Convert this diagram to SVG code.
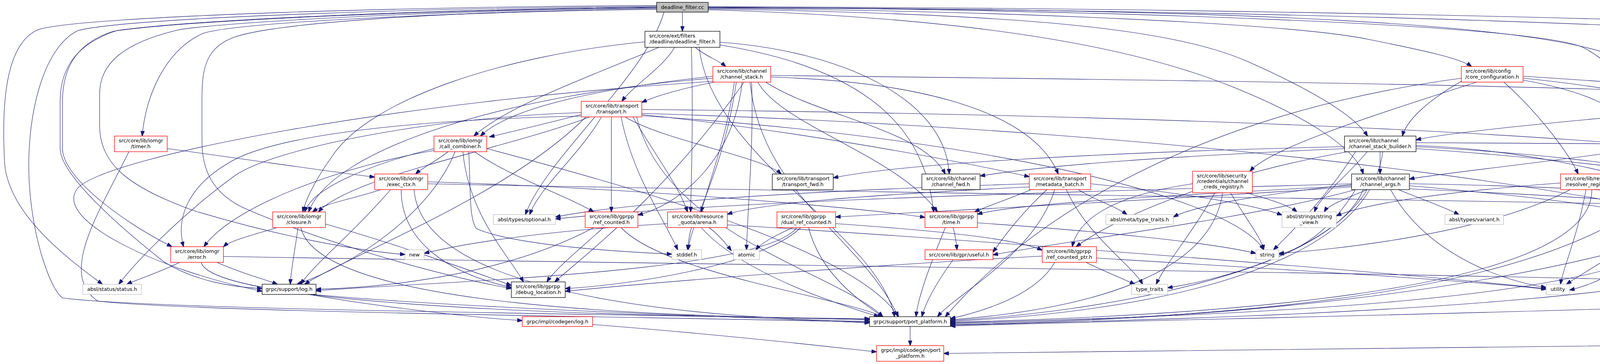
<svg xmlns="http://www.w3.org/2000/svg" width="5274" height="931" viewBox="0 0 5274 931">
<defs>
<marker id="ah" viewBox="0 0 14 10" refX="13" refY="5" markerWidth="14" markerHeight="10" markerUnits="userSpaceOnUse" orient="auto"><path d="M0,0L14,5L0,10z" fill="#191970" stroke="#191970" stroke-width="1"/></marker>
<style>
.edges path{fill:none;stroke:#191970;stroke-width:1.1;marker-end:url(#ah)}
.node rect{fill:#fff;stroke-width:1.3}
.node.r rect{stroke:#ff0000}
.node.k rect{stroke:#000}
.node.g rect{stroke:#bfbfbf}
.node.root rect{fill:#bfbfbf;stroke:#000}
text{font-family:"DejaVu Sans","Liberation Sans",sans-serif;font-size:13px;fill:#000}
.m{text-anchor:middle}
</style>
</defs>
<rect x="0" y="0" width="5274" height="931" fill="#fff"/>
<g id="edges" class="edges">
<path d="M1747,31 C1747,50 1747,60 1747,80"/>
<path d="M1681,24 C1200,30 620,55 520,85 C420,130 372,250 364,348"/>
<path d="M1681,14 C1100,16 220,40 100,75 C10,110 4,280 12,420 C25,560 200,680 262,727"/>
<path d="M1681,16 C1100,20 330,45 200,78 C110,120 65,300 75,470 C85,620 130,740 160,762 C400,795 1800,805 2226,818"/>
<path d="M1681,18 C1100,24 500,50 300,78 C200,110 154,170 154,260 L154,380 C154,440 280,560 420,670 C500,720 600,735 671,738"/>
<path d="M1681,20 C1100,26 520,60 450,78 C320,110 255,160 255,240 L255,320 C255,420 330,480 500,540 C700,600 900,640 1037,651"/>
<path d="M1681,22 C1100,30 700,60 600,95 C530,120 517,170 517,250 L517,360 C517,430 540,490 620,530 C800,610 1100,700 1309,738"/>
<path d="M1681,19 C1100,25 480,52 290,80 C190,112 160,180 160,260 L160,380 C160,450 300,560 440,631"/>
<path d="M1700,31 C1650,200 1400,400 1345,549"/>
<path d="M1813,18 C2800,25 3900,60 4050,120 C4150,170 4190,260 4200,356"/>
<path d="M1813,17 C3000,20 4300,45 4900,80 C5150,95 5273,120 5273,250 L5273,460 C5273,620 5150,690 4921,738"/>
<path d="M1813,25 C2500,45 2900,120 3150,220 C3350,300 3470,380 3490,445"/>
<path d="M1813,23 C2600,35 3000,70 3200,160 C3380,240 3470,300 3501,348"/>
<path d="M1813,21 C2600,28 3300,60 3500,100 C3650,130 3740,150 3767,170"/>
<path d="M1813,19 C3200,22 3950,60 4150,150 C4250,200 4290,230 4300,259"/>
<path d="M1813,20 C3400,25 4500,70 5000,120 C5150,150 5172,250 5172,370 C5172,460 4950,530 4728,552"/>
<path d="M1780,121 C1800,140 1840,155 1858,170"/>
<path d="M1727,121 C1700,170 1620,220 1592,259"/>
<path d="M1687,121 C1500,200 1300,270 1213,348"/>
<path d="M1651,107 C1300,140 950,250 850,400 C800,470 780,520 775,542"/>
<path d="M1843,108 C2150,130 2420,250 2430,445"/>
<path d="M1843,115 C2250,180 2370,350 2390,542"/>
<path d="M1790,121 C1820,400 2250,600 2290,810"/>
<path d="M1770,121 C1775,300 1770,450 1768,542"/>
<path d="M1830,210 C1750,225 1680,245 1643,262"/>
<path d="M1825,195 C1500,230 1300,280 1230,348"/>
<path d="M1825,200 C1300,240 850,380 790,542"/>
<path d="M1880,210 C1860,350 1820,450 1795,542"/>
<path d="M1940,210 C2000,320 2300,400 2400,542"/>
<path d="M1960,210 C2100,300 2360,330 2420,445"/>
<path d="M1920,210 C1950,500 2200,600 2300,810"/>
<path d="M1825,208 C1000,260 280,400 200,480 C130,560 400,690 671,745"/>
<path d="M1973,193 C3500,210 4900,230 5100,300 C5170,340 5150,480 5143,542"/>
<path d="M1905,210 C1700,500 1500,650 1420,721"/>
<path d="M1885,210 C1850,450 1770,560 1762,639"/>
<path d="M1900,210 C1880,400 1750,520 1633,550"/>
<path d="M1924,210 C1930,350 1915,520 1911,639"/>
<path d="M1973,197 C2400,210 2650,300 2709,445"/>
<path d="M1488,293 C1400,315 1300,340 1253,350"/>
<path d="M1510,299 C1300,380 900,450 815,542"/>
<path d="M1488,297 C1100,305 700,340 580,420 C480,480 450,560 470,631"/>
<path d="M1488,288 C1100,300 700,380 600,450 C450,560 340,680 304,727"/>
<path d="M1500,299 C1300,500 900,650 780,727"/>
<path d="M1600,299 C1700,360 1950,400 2000,445"/>
<path d="M1643,293 C2000,330 2400,400 2635,452"/>
<path d="M1620,299 C1680,400 1740,480 1760,542"/>
<path d="M1565,299 C1565,400 1565,480 1565,542"/>
<path d="M1540,299 C1480,400 1380,480 1356,549"/>
<path d="M1590,299 C1620,450 1700,560 1735,639"/>
<path d="M1630,299 C1700,600 2150,700 2260,810"/>
<path d="M1643,280 C3500,300 5000,380 5077,542"/>
<path d="M1643,290 C3000,330 4500,500 4850,727"/>
<path d="M1643,296 C2500,350 3150,500 3235,639"/>
<path d="M1147,388 C1120,410 1080,430 1064,445"/>
<path d="M1111,380 C950,420 800,480 780,542"/>
<path d="M1111,385 C900,420 600,520 522,631"/>
<path d="M1165,388 C1100,550 900,680 760,727"/>
<path d="M1185,388 C1200,550 1300,650 1340,721"/>
<path d="M1200,388 C1205,480 1200,560 1220,585 C1300,620 1500,640 1720,650"/>
<path d="M1215,388 C1300,450 1450,500 1520,542"/>
<path d="M1246,380 C1700,500 2200,650 2300,810"/>
<path d="M975,485 C900,510 830,520 800,542"/>
<path d="M1000,485 C900,600 800,680 770,727"/>
<path d="M1027,485 C1027,620 1150,700 1309,735"/>
<path d="M1095,465 C1600,480 2200,530 2368,556"/>
<path d="M1060,485 C1080,760 1800,815 2226,822"/>
<path d="M1095,470 C2500,500 4800,520 5008,550"/>
<path d="M428,380 C650,410 850,440 959,453"/>
<path d="M330,388 C250,550 150,700 250,770 C500,800 1800,812 2226,824"/>
<path d="M710,582 C650,600 590,615 572,631"/>
<path d="M763,582 C755,640 745,690 743,727"/>
<path d="M833,573 C1000,620 1200,690 1309,730"/>
<path d="M770,582 C820,790 1700,808 2226,817"/>
<path d="M460,671 C400,700 350,715 325,727"/>
<path d="M555,671 C620,700 680,715 710,727"/>
<path d="M515,671 C550,800 1900,812 2226,815"/>
<path d="M572,656 C2000,680 4000,700 4815,735"/>
<path d="M1520,582 C1300,700 1000,735 809,740"/>
<path d="M1545,582 C1480,640 1420,690 1400,721"/>
<path d="M1590,582 C1700,700 2150,760 2260,810"/>
<path d="M1770,582 C1765,600 1762,620 1760,639"/>
<path d="M1815,582 C1840,600 1860,625 1872,641"/>
<path d="M1709,572 C1400,590 1200,620 1086,648"/>
<path d="M1795,582 C1900,700 2150,780 2250,810"/>
<path d="M1862,575 C2600,620 3600,700 3958,738"/>
<path d="M2030,582 C1990,600 1950,620 1935,639"/>
<path d="M2040,582 C1950,700 1100,720 809,744"/>
<path d="M2050,582 C1950,680 1600,730 1447,738"/>
<path d="M2070,582 C2100,700 2200,770 2260,810"/>
<path d="M2139,572 C2400,590 2600,610 2668,640"/>
<path d="M2420,582 C2380,680 2350,760 2345,810"/>
<path d="M2440,582 C2445,600 2448,620 2450,639"/>
<path d="M2502,570 C2800,590 3100,620 3215,648"/>
<path d="M2440,664 C2400,720 2370,770 2360,810"/>
<path d="M2760,485 C2800,510 2860,530 2885,549"/>
<path d="M2792,470 C3000,490 3200,520 3282,550"/>
<path d="M2730,485 C2780,600 2900,680 2925,727"/>
<path d="M2640,485 C2580,510 2520,530 2495,542"/>
<path d="M2635,470 C2000,490 1600,520 1422,555"/>
<path d="M2635,478 C2200,500 1950,520 1862,548"/>
<path d="M2700,485 C2650,650 2450,750 2400,810"/>
<path d="M2680,485 C2600,560 2560,620 2542,645"/>
<path d="M3110,493 C3050,600 2980,680 2960,727"/>
<path d="M3130,493 C3100,700 2800,790 2433,818"/>
<path d="M3150,493 C3190,560 3230,610 3235,639"/>
<path d="M3190,493 C3250,510 3300,525 3320,542"/>
<path d="M3053,470 C2850,500 2760,560 2745,631"/>
<path d="M3490,485 C3400,700 2800,800 2433,820"/>
<path d="M3580,485 C3640,510 3700,530 3735,549"/>
<path d="M3500,485 C3440,510 3400,525 3390,542"/>
<path d="M3460,470 C2800,490 1900,510 1422,560"/>
<path d="M3470,485 C3400,600 3320,640 3274,651"/>
<path d="M3560,485 C3650,650 3850,720 3958,735"/>
<path d="M3608,475 C3900,500 4150,530 4229,557"/>
<path d="M3608,470 C4300,480 4800,540 5008,558"/>
<path d="M3460,475 C3000,500 2600,520 2502,548"/>
<path d="M3470,485 C3200,560 2700,620 2542,652"/>
<path d="M3460,478 C3000,510 2400,540 2139,555"/>
<path d="M3500,485 C3400,650 3100,720 2989,736"/>
<path d="M3460,472 C3200,500 3050,530 3004,555"/>
<path d="M3608,483 C4000,500 4390,520 4405,560 C4410,600 4398,620 4395,639"/>
<path d="M3995,468 C3700,490 3500,520 3421,552"/>
<path d="M4020,485 C3800,600 3400,640 3274,648"/>
<path d="M4060,485 C4040,600 4000,690 3995,727"/>
<path d="M4075,485 C4080,760 3000,810 2433,824"/>
<path d="M4260,574 C4150,640 4050,700 4010,727"/>
<path d="M4330,574 C4345,600 4360,620 4370,639"/>
<path d="M4300,574 C4280,780 3000,810 2433,826"/>
<path d="M4382,562 C4600,590 4800,620 4906,648"/>
<path d="M3442,375 C2800,390 2300,420 2133,455"/>
<path d="M3442,380 C3000,400 2700,420 2509,450"/>
<path d="M3533,388 C3533,410 3533,425 3533,445"/>
<path d="M3470,388 C3400,500 3300,600 3260,639"/>
<path d="M3500,388 C3450,450 3380,500 3365,542"/>
<path d="M3625,380 C4200,420 4800,500 4920,639"/>
<path d="M3625,375 C3900,390 4200,420 4300,452"/>
<path d="M3625,365 C3800,365 4000,368 4164,368"/>
<path d="M3625,372 C4100,390 4400,540 4560,555"/>
<path d="M3450,388 C3100,450 2850,560 2755,631"/>
<path d="M3540,388 C3500,700 2900,800 2433,822"/>
<path d="M4286,286 C4000,310 3700,340 3625,358"/>
<path d="M4320,299 C4290,320 4250,340 4230,356"/>
<path d="M4400,299 C4450,400 4600,480 4630,542"/>
<path d="M4420,299 C4600,400 4900,500 4934,639"/>
<path d="M4370,299 C4400,500 4200,700 4018,742"/>
<path d="M4350,299 C4300,780 3000,815 2433,828"/>
<path d="M4686,294 C4500,330 4300,360 4250,372"/>
<path d="M4700,299 C4300,380 3700,440 3608,458"/>
<path d="M4740,299 C4600,700 3200,820 2433,830"/>
<path d="M4820,299 C4880,450 4930,580 4944,639"/>
<path d="M4900,299 C5050,380 5090,480 5092,542"/>
<path d="M3899,195 C4300,220 4600,250 4686,265"/>
<path d="M3899,200 C4100,220 4250,250 4286,265"/>
<path d="M3899,205 C4100,240 4180,300 4195,356"/>
<path d="M3850,210 C3950,300 4020,400 4040,445"/>
<path d="M3780,210 C3500,300 3250,380 3200,438"/>
<path d="M3741,200 C3000,300 2600,600 2420,810"/>
<path d="M3741,208 C3650,260 3600,310 3590,348"/>
<path d="M4640,582 C4600,790 3000,815 2433,832"/>
<path d="M5080,582 C5000,660 4950,710 4921,733"/>
<path d="M5060,582 C5020,680 4990,760 4985,810"/>
<path d="M5120,582 C5150,800 5000,860 4500,880 C3500,895 2800,900 2416,904"/>
<path d="M4880,753 C4900,775 4930,795 4945,810"/>
<path d="M4830,753 C4600,790 3000,815 2433,834"/>
<path d="M790,753 C1000,790 1250,815 1337,820"/>
<path d="M800,753 C1200,790 1900,810 2226,826"/>
<path d="M1517,830 C1900,860 2150,890 2244,900"/>
<path d="M2330,835 C2330,850 2330,870 2330,884"/>
<path d="M2780,671 C2840,700 2880,715 2905,727"/>
<path d="M2700,671 C2650,760 2500,800 2433,815"/>
<path d="M2807,660 C3300,690 3800,720 3958,740"/>
<path d="M2668,655 C2200,680 1700,720 1447,745"/>
</g>
<g id="n-deadline_filter_cc" class="node root"><rect x="1681" y="6" width="132" height="25"/><text x="1747" y="23" class="m">deadline_filter.cc</text></g>
<g id="n-deadline_filter_h" class="node k"><rect x="1651" y="80" width="192" height="41"/><text x="1662" y="96">src/core/ext/filters</text><text x="1747" y="111" class="m">/deadline/deadline_filter.h</text></g>
<g id="n-channel_stack_h" class="node r"><rect x="1825" y="170" width="148" height="40"/><text x="1836" y="186">src/core/lib/channel</text><text x="1899" y="201" class="m">/channel_stack.h</text></g>
<g id="n-core_configuration_h" class="node r"><rect x="3741" y="170" width="158" height="40"/><text x="3752" y="186">src/core/lib/config</text><text x="3820" y="201" class="m">/core_configuration.h</text></g>
<g id="n-timer_h" class="node r"><rect x="293" y="348" width="135" height="40"/><text x="304" y="364">src/core/lib/iomgr</text><text x="360" y="379" class="m">/timer.h</text></g>
<g id="n-transport_h" class="node r"><rect x="1488" y="259" width="155" height="40"/><text x="1499" y="275">src/core/lib/transport</text><text x="1565" y="290" class="m">/transport.h</text></g>
<g id="n-channel_init_h" class="node k"><rect x="4286" y="259" width="146" height="40"/><text x="4297" y="275">src/core/lib/surface</text><text x="4359" y="290" class="m">/channel_init.h</text></g>
<g id="n-channel_args_preconditioning_h" class="node k"><rect x="4686" y="259" width="234" height="40"/><text x="4697" y="275">src/core/lib/channel</text><text x="4803" y="290" class="m">/channel_args_preconditioning.h</text></g>
<g id="n-call_combiner_h" class="node r"><rect x="1111" y="348" width="135" height="40"/><text x="1122" y="364">src/core/lib/iomgr</text><text x="1178" y="379" class="m">/call_combiner.h</text></g>
<g id="n-channel_stack_builder_h" class="node k"><rect x="3442" y="348" width="183" height="40"/><text x="3453" y="364">src/core/lib/channel</text><text x="3533" y="379" class="m">/channel_stack_builder.h</text></g>
<g id="n-functional" class="node g"><rect x="4164" y="356" width="86" height="25"/><text x="4207" y="373" class="m">functional</text></g>
<g id="n-exec_ctx_h" class="node r"><rect x="959" y="445" width="136" height="40"/><text x="970" y="461">src/core/lib/iomgr</text><text x="1027" y="476" class="m">/exec_ctx.h</text></g>
<g id="n-transport_fwd_h" class="node k"><rect x="1977" y="445" width="156" height="40"/><text x="1988" y="461">src/core/lib/transport</text><text x="2055" y="476" class="m">/transport_fwd.h</text></g>
<g id="n-channel_fwd_h" class="node k"><rect x="2360" y="445" width="149" height="40"/><text x="2371" y="461">src/core/lib/channel</text><text x="2434" y="476" class="m">/channel_fwd.h</text></g>
<g id="n-metadata_batch_h" class="node r"><rect x="2635" y="445" width="157" height="40"/><text x="2646" y="461">src/core/lib/transport</text><text x="2713" y="476" class="m">/metadata_batch.h</text></g>
<g id="n-channel_creds_registry_h" class="node r"><rect x="3053" y="438" width="153" height="55"/><text x="3064" y="454">src/core/lib/security</text><text x="3064" y="468">/credentials/channel</text><text x="3129" y="482" class="m">_creds_registry.h</text></g>
<g id="n-channel_args_h" class="node k"><rect x="3460" y="445" width="148" height="40"/><text x="3471" y="461">src/core/lib/channel</text><text x="3534" y="476" class="m">/channel_args.h</text></g>
<g id="n-resolver_registry_h" class="node r"><rect x="3995" y="445" width="150" height="40"/><text x="4006" y="461">src/core/lib/resolver</text><text x="4070" y="476" class="m">/resolver_registry.h</text></g>
<g id="n-statusor_h" class="node g"><rect x="4272" y="452" width="161" height="26"/><text x="4352" y="469" class="m">absl/status/statusor.h</text></g>
<g id="n-closure_h" class="node r"><rect x="698" y="542" width="135" height="40"/><text x="709" y="558">src/core/lib/iomgr</text><text x="765" y="573" class="m">/closure.h</text></g>
<g id="n-optional_h" class="node g"><rect x="1263" y="549" width="159" height="25"/><text x="1342" y="566" class="m">absl/types/optional.h</text></g>
<g id="n-ref_counted_h" class="node r"><rect x="1498" y="542" width="135" height="40"/><text x="1509" y="558">src/core/lib/gprpp</text><text x="1565" y="573" class="m">/ref_counted.h</text></g>
<g id="n-arena_h" class="node r"><rect x="1709" y="542" width="153" height="40"/><text x="1720" y="558">src/core/lib/resource</text><text x="1785" y="573" class="m">_quota/arena.h</text></g>
<g id="n-dual_ref_counted_h" class="node r"><rect x="1989" y="542" width="150" height="40"/><text x="2000" y="558">src/core/lib/gprpp</text><text x="2064" y="573" class="m">/dual_ref_counted.h</text></g>
<g id="n-time_h" class="node r"><rect x="2368" y="542" width="134" height="40"/><text x="2379" y="558">src/core/lib/gprpp</text><text x="2435" y="573" class="m">/time.h</text></g>
<g id="n-absl_type_traits_h" class="node g"><rect x="2831" y="549" width="173" height="25"/><text x="2917" y="566" class="m">absl/meta/type_traits.h</text></g>
<g id="n-string_view_h" class="node g"><rect x="3282" y="542" width="139" height="40"/><text x="3293" y="558">absl/strings/string</text><text x="3351" y="573" class="m">_view.h</text></g>
<g id="n-variant_h" class="node g"><rect x="3699" y="549" width="150" height="25"/><text x="3774" y="566" class="m">absl/types/variant.h</text></g>
<g id="n-avl_h" class="node r"><rect x="4229" y="549" width="153" height="25"/><text x="4305" y="566" class="m">src/core/lib/avl/avl.h</text></g>
<g id="n-channel_stack_type_h" class="node k"><rect x="4560" y="542" width="168" height="40"/><text x="4571" y="558">src/core/lib/surface</text><text x="4644" y="573" class="m">/channel_stack_type.h</text></g>
<g id="n-grpc_types_h" class="node r"><rect x="5008" y="542" width="176" height="40"/><text x="5019" y="558">grpc/impl/codegen/grpc</text><text x="5096" y="573" class="m">_types.h</text></g>
<g id="n-error_h" class="node r"><rect x="437" y="631" width="135" height="40"/><text x="448" y="647">src/core/lib/iomgr</text><text x="504" y="662" class="m">/error.h</text></g>
<g id="n-new" class="node g"><rect x="1037" y="639" width="49" height="25"/><text x="1061" y="656" class="m">new</text></g>
<g id="n-stddef_h" class="node g"><rect x="1720" y="639" width="76" height="25"/><text x="1758" y="656" class="m">stddef.h</text></g>
<g id="n-atomic" class="node g"><rect x="1878" y="639" width="66" height="25"/><text x="1911" y="656" class="m">atomic</text></g>
<g id="n-useful_h" class="node r"><rect x="2368" y="639" width="174" height="25"/><text x="2455" y="656" class="m">src/core/lib/gpr/useful.h</text></g>
<g id="n-ref_counted_ptr_h" class="node r"><rect x="2668" y="631" width="139" height="40"/><text x="2679" y="647">src/core/lib/gprpp</text><text x="2737" y="662" class="m">/ref_counted_ptr.h</text></g>
<g id="n-string" class="node g"><rect x="3215" y="639" width="59" height="25"/><text x="3244" y="656" class="m">string</text></g>
<g id="n-algorithm" class="node g"><rect x="4343" y="639" width="86" height="25"/><text x="4386" y="656" class="m">algorithm</text></g>
<g id="n-vector" class="node g"><rect x="4906" y="639" width="63" height="25"/><text x="4937" y="656" class="m">vector</text></g>
<g id="n-absl_status_h" class="node g"><rect x="212" y="727" width="150" height="26"/><text x="287" y="744" class="m">absl/status/status.h</text></g>
<g id="n-log_h" class="node k"><rect x="671" y="727" width="138" height="26"/><text x="740" y="744" class="m">grpc/support/log.h</text></g>
<g id="n-debug_location_h" class="node k"><rect x="1309" y="721" width="138" height="40"/><text x="1320" y="737">src/core/lib/gprpp</text><text x="1378" y="752" class="m">/debug_location.h</text></g>
<g id="n-type_traits" class="node g"><rect x="2897" y="727" width="92" height="26"/><text x="2943" y="744" class="m">type_traits</text></g>
<g id="n-utility" class="node g"><rect x="3958" y="727" width="60" height="26"/><text x="3988" y="744" class="m">utility</text></g>
<g id="n-grpc_status_h" class="node k"><rect x="4815" y="727" width="106" height="26"/><text x="4868" y="744" class="m">grpc/status.h</text></g>
<g id="n-codegen_log_h" class="node r"><rect x="1337" y="810" width="180" height="25"/><text x="1427" y="827" class="m">grpc/impl/codegen/log.h</text></g>
<g id="n-port_platform_h" class="node k"><rect x="2226" y="810" width="207" height="25"/><text x="2330" y="827" class="m">grpc/support/port_platform.h</text></g>
<g id="n-codegen_status_h" class="node k"><rect x="4859" y="810" width="200" height="25"/><text x="4959" y="827" class="m">grpc/impl/codegen/status.h</text></g>
<g id="n-codegen_port_platform_h" class="node r"><rect x="2244" y="884" width="172" height="40"/><text x="2255" y="900">grpc/impl/codegen/port</text><text x="2330" y="915" class="m">_platform.h</text></g>
</svg>
